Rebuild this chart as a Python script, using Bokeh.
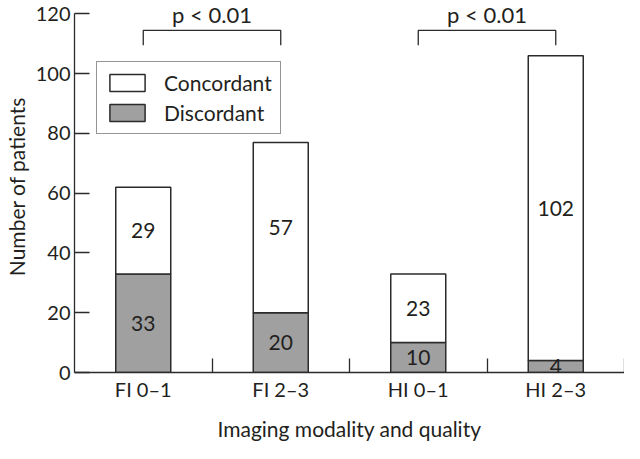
from bokeh.plotting import figure
from bokeh.models import ColumnDataSource, FixedTicker, Legend, LegendItem, Range1d, LabelSet
from bokeh.core.properties import value
from bokeh.embed import file_html
from bokeh.resources import INLINE

categories = ["FI 0–1", "FI 2–3", "HI 0–1", "HI 2–3"]
discordant = [33, 20, 10, 4]
concordant = [29, 57, 23, 102]
y_ticks = [0, 20, 40, 60, 80, 100, 120]
p_labels = ["p < 0.01", "p < 0.01"]
pairs = [(0, 1), (2, 3)]

FONT = "Lato"
TXT = "#231f20"
LINE = "#2b2b2b"
GRAY = "#a0a0a0"

xs = [i + 0.5 for i in range(len(categories))]
totals = [d + c for d, c in zip(discordant, concordant)]
src = ColumnDataSource(dict(
    x=xs, disc=discordant, conc=concordant, tot=totals,
    disc_mid=[d / 2 for d in discordant],
    conc_mid=[d + c / 2 for d, c in zip(discordant, concordant)],
    disc_txt=[str(v) for v in discordant],
    conc_txt=[str(v) for v in concordant],
))

p = figure(width=624, height=443, output_backend="svg", toolbar_location=None,
           x_range=Range1d(0, len(categories)), y_range=Range1d(0, 124.5),
           min_border_left=0, min_border_right=0, min_border_top=0, min_border_bottom=0)
p.outline_line_color = None
p.grid.grid_line_color = None
p.background_fill_color = "white"

bw = 0.4
r_disc = p.vbar(x="x", bottom=0, top="disc", width=bw, source=src,
                fill_color=GRAY, line_color=LINE, line_width=1.5)
r_conc = p.vbar(x="x", bottom="disc", top="tot", width=bw, source=src,
                fill_color="white", line_color=LINE, line_width=1.5)

for col_y, col_t in (("disc_mid", "disc_txt"), ("conc_mid", "conc_txt")):
    lbl = LabelSet(x="x", y=col_y, text=col_t, source=src, text_align="center",
                   text_baseline="middle", text_font=value(FONT),
                   text_font_size="21px", text_color=TXT)
    p.add_layout(lbl)

# significance brackets
br_top, br_leg = 114.5, 109.5
bx, by = [], []
tx, ty = [], []
for a, b in pairs:
    bx.append([xs[a], xs[a], xs[b], xs[b]])
    by.append([br_leg, br_top, br_top, br_leg])
    tx.append((xs[a] + xs[b]) / 2)
    ty.append(124.4)
p.multi_line(bx, by, line_color=LINE, line_width=1.3)
p.text(x=tx, y=ty, text=p_labels, text_align="center", text_baseline="top",
       text_font=value(FONT), text_font_size="22px", text_color=TXT)

# x axis
xa = p.xaxis[0]
xa.ticker = FixedTicker(ticks=xs, minor_ticks=list(range(1, len(categories) + 1)))
xa.major_label_overrides = {x: c for x, c in zip(xs, categories)}
xa.major_tick_line_color = None
xa.major_tick_in = 0
xa.major_tick_out = 0
xa.minor_tick_in = 14
xa.minor_tick_out = 0
xa.minor_tick_line_color = LINE
xa.minor_tick_line_width = 1.3
xa.axis_line_color = LINE
xa.axis_line_width = 1.3
xa.major_label_text_font = FONT
xa.major_label_text_font_size = "20px"
xa.major_label_text_color = TXT
xa.major_label_standoff = 4
xa.axis_label = "Imaging modality and quality"
xa.axis_label_text_font = FONT
xa.axis_label_text_font_size = "21px"
xa.axis_label_text_font_style = "normal"
xa.axis_label_text_color = TXT
xa.axis_label_standoff = 12

# y axis
ya = p.yaxis[0]
ya.ticker = FixedTicker(ticks=y_ticks)
ya.bounds = (0, 120)
ya.major_tick_in = 15
ya.major_tick_out = 0
ya.minor_tick_line_color = None
ya.major_tick_line_color = LINE
ya.major_tick_line_width = 1.3
ya.axis_line_color = LINE
ya.axis_line_width = 1.3
ya.major_label_text_font = FONT
ya.major_label_text_font_size = "20px"
ya.major_label_text_color = TXT
ya.major_label_standoff = 4
ya.axis_label = "Number of patients"
ya.axis_label_text_font = FONT
ya.axis_label_text_font_size = "21px"
ya.axis_label_text_font_style = "normal"
ya.axis_label_text_color = TXT
ya.axis_label_standoff = 4

legend = Legend(items=[LegendItem(label="Concordant", renderers=[r_conc]),
                       LegendItem(label="Discordant", renderers=[r_disc])],
                location=(22, 238), glyph_width=44, glyph_height=21,
                label_text_font=FONT, label_text_font_size="21px",
                label_text_color=TXT, border_line_color=LINE, border_line_width=1.5,
                padding=8, spacing=5, label_standoff=15, margin=0,
                background_fill_alpha=1.0)
p.add_layout(legend)

open("out.html", "w").write(file_html(p, INLINE))
